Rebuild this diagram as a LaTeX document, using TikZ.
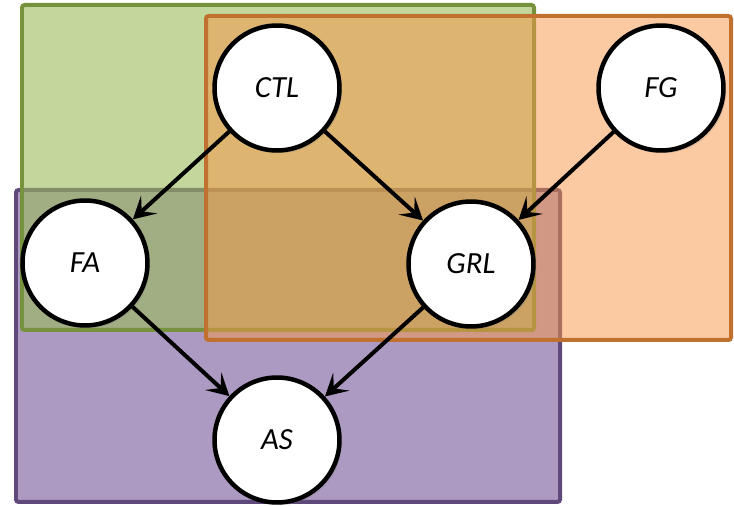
\documentclass[tikz,border=0pt]{standalone}
\usepackage{fontspec}
\setmainfont{Carlito}
\usetikzlibrary{arrows.meta,shadows}

\definecolor{grfill}{HTML}{9BBB59}
\definecolor{grline}{HTML}{76923C}
\definecolor{orfill}{HTML}{F79646}
\definecolor{orline}{HTML}{C0702F}
\definecolor{pufill}{HTML}{8064A2}
\definecolor{puline}{HTML}{5F497A}

\begin{document}
\begin{tikzpicture}[x=0.02cm, y=-0.02cm,
    group/.style={line width=0.08cm, rounded corners=1.5pt},
    var/.style={circle, draw=black, fill=white, line width=0.09cm,
      minimum size=2.5cm, inner sep=0pt,
      font=\fontsize{17.5}{20}\selectfont\itshape,
      drop shadow={opacity=0.25, shadow xshift=1.5pt, shadow yshift=-1.5pt}},
    dep/.style={-{Stealth[length=0.44cm, width=0.48cm, inset=0.2cm]},
      line width=0.08cm, black}]
  \useasboundingbox (0,0) rectangle (734,506);

  % the three groups
  \filldraw [group, fill=pufill, fill opacity=0.65, draw=puline] (16,190) rectangle (560,502);
  \filldraw [group, fill=grfill, fill opacity=0.6, draw=grline] (22,5) rectangle (534,330);
  \filldraw [group, fill=orfill, fill opacity=0.5, draw=orline] (206,16) rectangle (731,340);

  % variables
  \node [var] (ctl) at (277,88) {CTL};
  \node [var] (fg) at (661,88) {FG};
  \node [var] (fa) at (85,263) {FA};
  \node [var] (grl) at (471,264) {GRL};
  \node [var] (as) at (277,440) {AS};

  \draw [dep] (ctl) -- (fa);
  \draw [dep] (ctl) -- (grl);
  \draw [dep] (fg) -- (grl);
  \draw [dep] (fa) -- (as);
  \draw [dep] (grl) -- (as);
\end{tikzpicture}
\end{document}
